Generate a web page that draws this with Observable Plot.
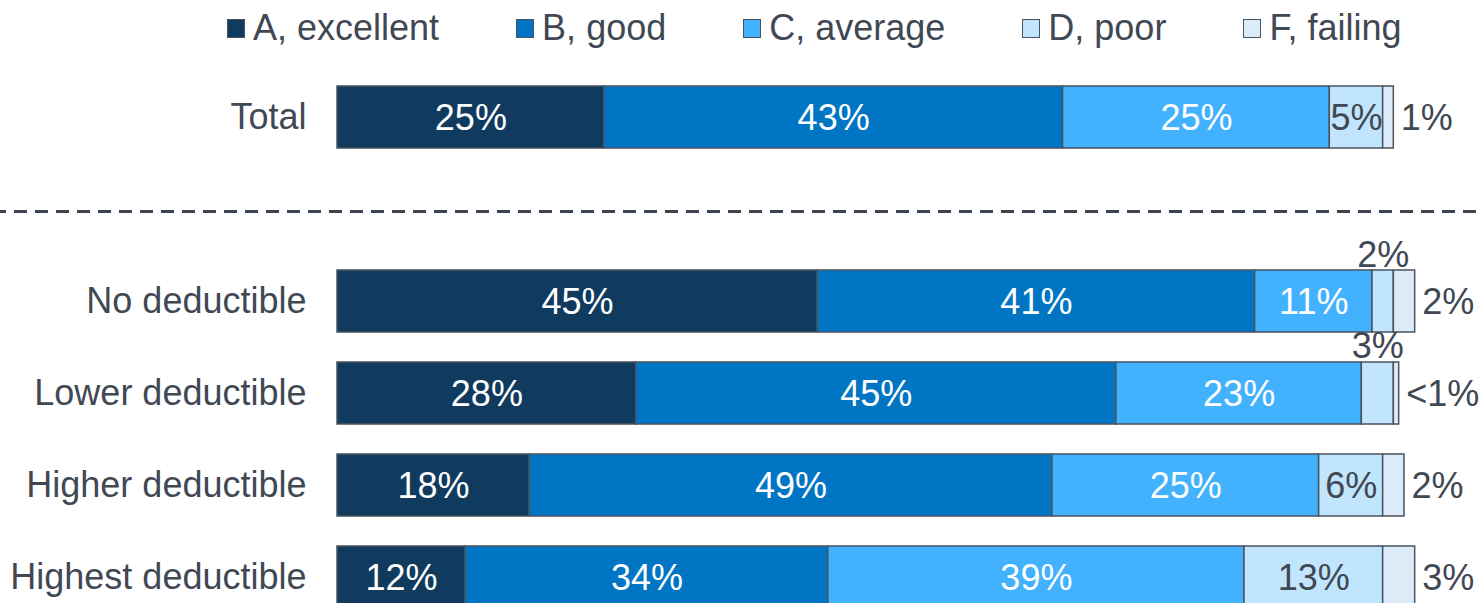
<!DOCTYPE html>
<html>
<head>
<meta charset="utf-8">
<script src="https://cdn.jsdelivr.net/npm/d3@7"></script>
<script src="https://cdn.jsdelivr.net/npm/@observablehq/plot@0.6"></script>
<style>
  html, body { margin: 0; padding: 0; background: #fff; overflow: hidden; }
  body { font-family: Arial, "Liberation Sans", sans-serif; color: #3f4853; }
  #legend { display: flex; align-items: center; height: 56px; padding-left: 227px; gap: 77px; font-size: 36px; padding-bottom: 2px; }
  .item { display: flex; align-items: center; }
  .sw { width: 16px; height: 17px; border: 1.5px solid #4a5360; margin-right: 8px; }
</style>
</head>
<body>
<div id="legend"></div>
<div id="chart"></div>
<script>
// ---- data ----
const categories = ["Total", "sep", "No deductible", "Lower deductible", "Higher deductible", "Highest deductible"];
const grades = ["A, excellent", "B, good", "C, average", "D, poor", "F, failing"];
const colors = ["#103a5e", "#0075c4", "#42b1fe", "#c2e5fe", "#dbebf8"];
const valuesTotal   = [25, 43, 25, 5, 1];
const valuesNone    = [45, 41, 11, 2, 2];
const valuesLower   = [28, 45, 23, 3, 0.5];
const valuesHigher  = [18, 49, 25, 6, 2];
const valuesHighest = [12, 34, 39, 13, 3];

const series = [
  ["Total", valuesTotal],
  ["No deductible", valuesNone],
  ["Lower deductible", valuesLower],
  ["Higher deductible", valuesHigher],
  ["Highest deductible", valuesHighest]
];
const data = series.flatMap(([cat, vals]) =>
  vals.map((v, i) => ({cat, grade: grades[i], gi: i, value: v})));

const fmt = v => v < 1 ? "<1%" : `${v}%`;
const dark = "#3f4853";
const stroke = "#4a5360";

// ---- legend ----
const legend = document.getElementById("legend");
grades.forEach((g, i) => {
  const it = document.createElement("div");
  it.className = "item";
  it.innerHTML = `<span class="sw" style="background:${colors[i]}"></span><span>${g}</span>`;
  legend.appendChild(it);
});

// ---- chart ----
const common = {x: "value", y: "cat", z: "grade", order: grades};
const W = 1481, ML = 337, MR = 77;
const FS = 36;

const chart = Plot.plot({
  width: W,
  height: 552,
  marginLeft: ML,
  marginRight: MR,
  marginTop: 28,
  marginBottom: 2,
  style: {fontFamily: "Arial, 'Liberation Sans', sans-serif", fontSize: `${FS}px`, color: dark, background: "white", overflow: "visible"},
  x: {domain: [0, 100], axis: null},
  y: {domain: categories, paddingInner: 0.326, paddingOuter: 0, round: false, label: null},
  color: {domain: grades, range: colors},
  marks: [
    Plot.axisY({
      ticks: categories.filter(c => c !== "sep"),
      tickSize: 0, tickPadding: 31, label: null,
      fontSize: FS, fill: dark
    }),
    Plot.ruleY(["sep"], {
      stroke: "#3d4650", strokeWidth: 3, strokeDasharray: "13,8", strokeDashoffset: 7,
      insetLeft: -ML, insetRight: -MR, dy: 2
    }),
    Plot.barX(data, Plot.stackX({...common, fill: "grade", stroke, strokeWidth: 1.5})),
    // white labels inside A, B, C
    Plot.text(data, Plot.stackX({...common,
      text: d => d.gi < 3 ? fmt(d.value) : null,
      fill: "white", fontSize: FS, dy: 1})),
    // dark labels inside D (when wide enough)
    Plot.text(data, Plot.stackX({...common,
      text: d => d.gi === 3 && d.value >= 4 ? fmt(d.value) : null,
      fill: dark, fontSize: FS, dy: 1})),
    // small D labels above the bar
    Plot.text(data, Plot.stackX({...common,
      text: d => d.gi === 3 && d.value < 4 ? fmt(d.value) : null,
      fill: dark, fontSize: FS, lineAnchor: "bottom", dy: -35})),
    // F labels outside to the right
    Plot.text(data, Plot.stackX2({...common,
      text: d => d.gi === 4 ? fmt(d.value) : null,
      fill: dark, fontSize: FS, textAnchor: "start", dx: 7, dy: 1}))
  ]
});
document.getElementById("chart").appendChild(chart);
</script>
</body>
</html>
